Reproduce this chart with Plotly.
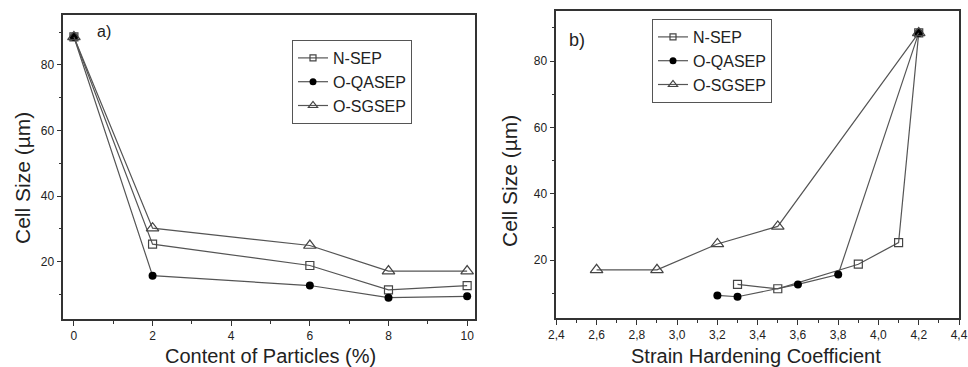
import plotly.graph_objects as go

# ---- data ----
content = [0, 2, 6, 8, 10]
nsep_a = [88.5, 25.3, 18.8, 11.4, 12.7]
oqasep_a = [88.5, 15.7, 12.7, 9.0, 9.4]
osgsep_a = [88.5, 30.2, 24.9, 17.1, 17.1]

nsep_shc = [3.3, 3.5, 3.9, 4.1, 4.2]
nsep_b = [12.7, 11.4, 18.8, 25.3, 88.5]
oqasep_shc = [3.2, 3.3, 3.6, 3.8, 4.2]
oqasep_b = [9.4, 9.0, 12.7, 15.7, 88.5]
osgsep_shc = [2.6, 2.9, 3.2, 3.5, 4.2]
osgsep_b = [17.1, 17.1, 24.9, 30.2, 88.5]

names = ["N-SEP", "O-QASEP", "O-SGSEP"]

LINE = "#555555"
FONT = "Liberation Sans, Arial, sans-serif"
TXT = "#222222"
symbols = ["square-open", "circle", "triangle-up-open"]
sizes = [8, 8, 11]
leg_sizes = [6, 7, 8]
mcolors = ["#444444", "#000000", "#444444"]

def mk(i, size):
    return dict(symbol=symbols[i], size=size, color=mcolors[i],
                line=dict(width=1.2 if i != 1 else 0, color=mcolors[i]))

fig = go.Figure()
left = [(content, nsep_a), (content, oqasep_a), (content, osgsep_a)]
right = [(nsep_shc, nsep_b), (oqasep_shc, oqasep_b), (osgsep_shc, osgsep_b)]
for i, (x, y) in enumerate(left):
    fig.add_trace(go.Scatter(x=x, y=y, mode="lines+markers", name=names[i],
                             line=dict(color=LINE, width=1.2), marker=mk(i, sizes[i]),
                             xaxis="x", yaxis="y", showlegend=False))
for i, (x, y) in enumerate(right):
    fig.add_trace(go.Scatter(x=x, y=y, mode="lines+markers", name=names[i],
                             line=dict(color=LINE, width=1.2), marker=mk(i, sizes[i]),
                             xaxis="x2", yaxis="y2", showlegend=False))
# legend entries (smaller markers, as in the reference legends)
for leg, xa, ya in [("legend", "x", "y"), ("legend2", "x2", "y2")]:
    for i in range(3):
        fig.add_trace(go.Scatter(x=[None], y=[None], mode="lines+markers", name=names[i],
                                 line=dict(color=LINE, width=1.2), marker=mk(i, leg_sizes[i]),
                                 xaxis=xa, yaxis=ya, legend=leg, showlegend=True))

W, H = 968, 367
def fx(px): return px / W
def fy(py): return 1 - py / H

axis_common = dict(showline=True, mirror=True, linecolor="#333333", linewidth=1.5,
                   showgrid=False, zeroline=False, ticks="outside", ticklen=5,
                   tickwidth=1.2, tickcolor="#333333", automargin=False,
                   tickfont=dict(family=FONT, size=12, color=TXT))
minor_common = dict(ticklen=3, tickcolor="#333333", ticks="outside", tickwidth=1.2)

leg_common = dict(xanchor="left", yanchor="top", bordercolor="#555555", borderwidth=1,
                  bgcolor="white", font=dict(family=FONT, size=16, color=TXT),
                  tracegroupgap=0, itemwidth=30)

def ann(text, x, y, size, angle=0, anchor="center"):
    return dict(text=text, x=fx(x), y=fy(y), xref="paper", yref="paper", showarrow=False,
                xanchor=anchor, yanchor="middle", textangle=angle,
                font=dict(family=FONT, size=size, color=TXT))

fig.update_layout(
    width=W, height=H, margin=dict(l=0, r=0, t=0, b=0),
    paper_bgcolor="white", plot_bgcolor="white",
    separators=",.",
    font=dict(family=FONT, color=TXT),
    xaxis=dict(domain=[fx(63.3), fx(475)], range=[-0.27, 10.2], dtick=2, tick0=0,
               minor=dict(dtick=1, **minor_common), anchor="y", **axis_common),
    yaxis=dict(domain=[fy(319.3), fy(15)], range=[2.4, 95.2], dtick=20, tick0=0,
               minor=dict(dtick=10, **minor_common), anchor="x", **axis_common),
    xaxis2=dict(domain=[fx(556.3), fx(959)], range=[2.4, 4.4], dtick=0.2, tick0=2.4,
                tickformat=".1f", minor=dict(dtick=0.1, **minor_common),
                anchor="y2", **axis_common),
    yaxis2=dict(domain=[fy(318.3), fy(10.7)], range=[2.5, 95.2], dtick=20, tick0=0,
                minor=dict(dtick=10, **minor_common), anchor="x2", **axis_common),
    legend=dict(x=fx(292), y=fy(40), **leg_common),
    legend2=dict(x=fx(652), y=fy(19), **leg_common),
    annotations=[
        ann("a)", 95, 32, 16, anchor="left"),
        ann("b)", 567, 40, 18, anchor="left"),
        ann("Content of Particles (%)", 270, 356, 20),
        ann("Strain Hardening Coefficient", 756, 356, 20),
        ann("Cell Size (µm)", 22, 178, 21, angle=-90),
        ann("Cell Size (µm)", 509, 181, 21, angle=-90),
    ],
)

fig.write_html("out.html", config={"displayModeBar": False},
               post_script="document.body.style.margin='0px';document.body.style.overflow='hidden';")
